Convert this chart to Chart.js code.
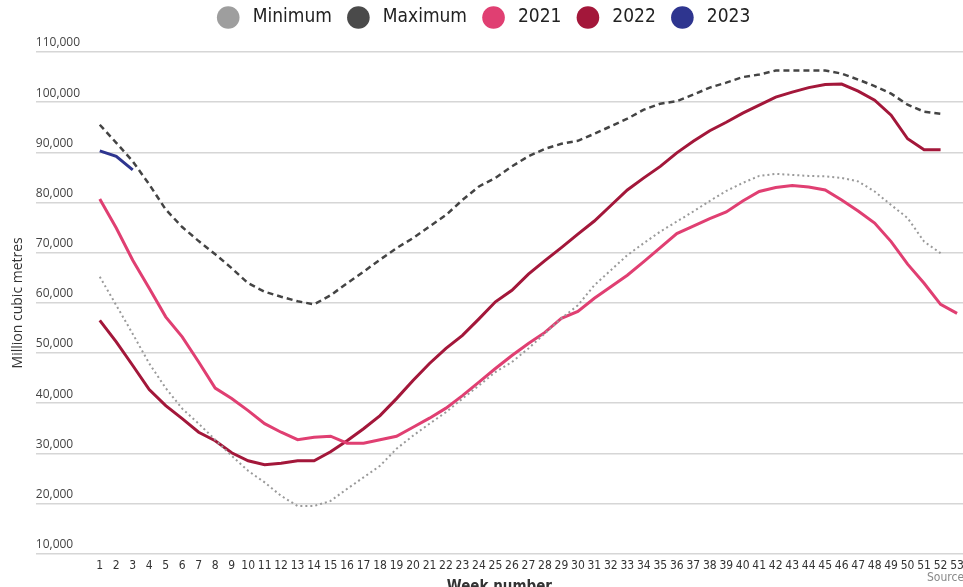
<!DOCTYPE html>
<html>
<head>
<meta charset="utf-8">
<script src="https://cdn.jsdelivr.net/npm/chart.js@4.4.0/dist/chart.umd.min.js"></script>
<style>
    html, body { margin: 0; padding: 0; background: #fff; overflow: hidden; }
    #wrap { position: relative; width: 963px; height: 596px; }
    #source { position: absolute; left: 927px; top: 570px; font: 12px "DejaVu Sans Condensed"; color: #888; white-space: nowrap; }
</style>
</head>
<body>
<div id="wrap">
    <canvas id="storageChart"></canvas>
    <div id="source">Source</div>
</div>
<script>
// Week numbers on the x axis
const weeks = Array.from({ length: 53 }, (_, i) => i + 1);

// Million cubic metres (weeks 1..)
const minimum = [65200, 59500, 53800, 47900, 43000, 38900, 35900, 32700, 29500, 26500,
    24200, 21500, 19500, 19500, 20500, 22900, 25200, 27500, 30900, 33500,
    35900, 38200, 40900, 43500, 46200, 48200, 50900, 53900, 56900, 59500,
    63500, 66500, 69500, 71900, 74200, 76200, 78200, 80300, 82300, 83900,
    85300, 85700, 85500, 85300, 85200, 84900, 84200, 82200, 79500, 76900,
    72200, 69900];
const maximum = [95500, 91900, 88200, 83600, 78600, 75100, 72300, 69700, 66900, 63900,
    62200, 61200, 60300, 59700, 61500, 63900, 66200, 68600, 70900, 72900,
    75200, 77500, 80500, 83200, 84900, 87200, 89200, 90700, 91700, 92300,
    93700, 95200, 96700, 98500, 99700, 100200, 101500, 102900, 103900, 105000,
    105500, 106300, 106300, 106300, 106300, 105700, 104500, 103200, 101700, 99500,
    98100, 97700];
const y2021 = [80700, 74900, 68500, 62900, 57200, 53200, 48200, 43000, 40900, 38500,
    35900, 34200, 32700, 33200, 33400, 32000, 32000, 32700, 33400, 35200,
    37000, 39000, 41500, 44200, 46900, 49500, 51900, 54100, 56900, 58300,
    60900, 63200, 65500, 68200, 71000, 73800, 75300, 76800, 78100, 80300,
    82200, 83000, 83400, 83100, 82500, 80500, 78300, 75900, 72200, 67700,
    63900, 59700, 57900];
const y2022 = [56500, 52200, 47500, 42700, 39500, 36900, 34200, 32500, 30100, 28500,
    27700, 28000, 28500, 28500, 30300, 32500, 34900, 37500, 40900, 44500,
    47900, 50900, 53500, 56800, 60200, 62500, 65700, 68400, 71000, 73700,
    76300, 79400, 82500, 84900, 87200, 89900, 92200, 94300, 96000, 97800,
    99400, 101000, 102000, 102900, 103500, 103600, 102200, 100400, 97400, 92700,
    90500, 90500];
const y2023 = [90300, 89200, 86500];

const yTicks = { min: 10000, max: 110000, step: 10000 };

function toPoints(values) {
    return values.map((v, i) => ({ x: weeks[i], y: v }));
}

// leave a bit more room under the legend
const legendSpace = {
    id: 'legendSpace',
    beforeInit(chart) {
        const fit = chart.legend.fit;
        chart.legend.fit = function () {
            fit.bind(chart.legend)();
            this.height += 15;
        };
    }
};

const ctx = document.getElementById('storageChart');

new Chart(ctx, {
    type: 'line',
    data: {
        datasets: [
            {
                label: 'Minimum',
                data: toPoints(minimum),
                borderColor: '#9a9a9a',
                backgroundColor: '#9e9e9e',
                borderWidth: 2,
                borderDash: [2, 3]
            },
            {
                label: 'Maximum',
                data: toPoints(maximum),
                borderColor: '#444444',
                backgroundColor: '#4a4a4a',
                borderWidth: 2.5,
                borderDash: [6, 4]
            },
            {
                label: '2021',
                data: toPoints(y2021),
                borderColor: '#e03f72',
                backgroundColor: '#e03f72',
                borderWidth: 3
            },
            {
                label: '2022',
                data: toPoints(y2022),
                borderColor: '#a3173a',
                backgroundColor: '#a3173a',
                borderWidth: 3
            },
            {
                label: '2023',
                data: toPoints(y2023),
                borderColor: '#2e358f',
                backgroundColor: '#2e358f',
                borderWidth: 3
            }
        ]
    },
    plugins: [legendSpace],
    options: {
        responsive: true,
        maintainAspectRatio: false,
        animation: false,
        layout: { padding: { top: -9, left: 6, right: 0, bottom: 0 } },
        elements: { point: { radius: 0 }, line: { tension: 0 } },
        plugins: {
            tooltip: { enabled: false },
            legend: {
                position: 'top',
                labels: {
                    usePointStyle: true,
                    pointStyle: 'circle',
                    boxHeight: 16,
                    padding: 17,
                    color: '#222',
                    font: { family: 'DejaVu Sans Condensed', size: 19 },
                    generateLabels: (chart) => {
                        const items = Chart.defaults.plugins.legend.labels.generateLabels(chart);
                        return items.map(item => ({ ...item, text: ' ' + item.text, lineDash: [], lineWidth: 0, strokeStyle: item.fillStyle }));
                    }
                }
            }
        },
        scales: {
            x: {
                type: 'linear',
                min: -2.88,
                max: 53.36,
                afterFit: (scale) => { scale.paddingRight = 0; },
                grid: { display: false, drawTicks: false },
                border: { display: false },
                ticks: {
                    stepSize: 1,
                    includeBounds: false,
                    autoSkip: false,
                    maxRotation: 0,
                    padding: 5,
                    color: '#333',
                    font: { family: 'DejaVu Sans Condensed', size: 12 },
                    callback: (v) => (Number.isInteger(v) && v >= 1 && v <= 53) ? String(v) : ''
                },
                title: {
                    display: true,
                    text: 'Week number',
                    color: '#333',
                    font: { family: 'DejaVu Sans Condensed', size: 15, weight: 'bold' },
                    padding: { top: 0, bottom: 0 }
                }
            },
            y: {
                min: yTicks.min,
                max: yTicks.max,
                border: { display: false },
                grid: { color: '#d6d6d6', lineWidth: 1.5, drawTicks: false },
                ticks: {
                    stepSize: yTicks.step,
                    mirror: true,
                    padding: 0,
                    labelOffset: -9,
                    color: '#444',
                    font: { family: 'Open Sans', size: 12 },
                    callback: (v) => v.toLocaleString('en-US')
                },
                title: {
                    display: true,
                    text: 'Million cubic metres',
                    color: '#333',
                    font: { family: 'Open Sans', size: 14 },
                    padding: { top: 4, bottom: 9 }
                }
            }
        }
    }
});
</script>
</body>
</html>
